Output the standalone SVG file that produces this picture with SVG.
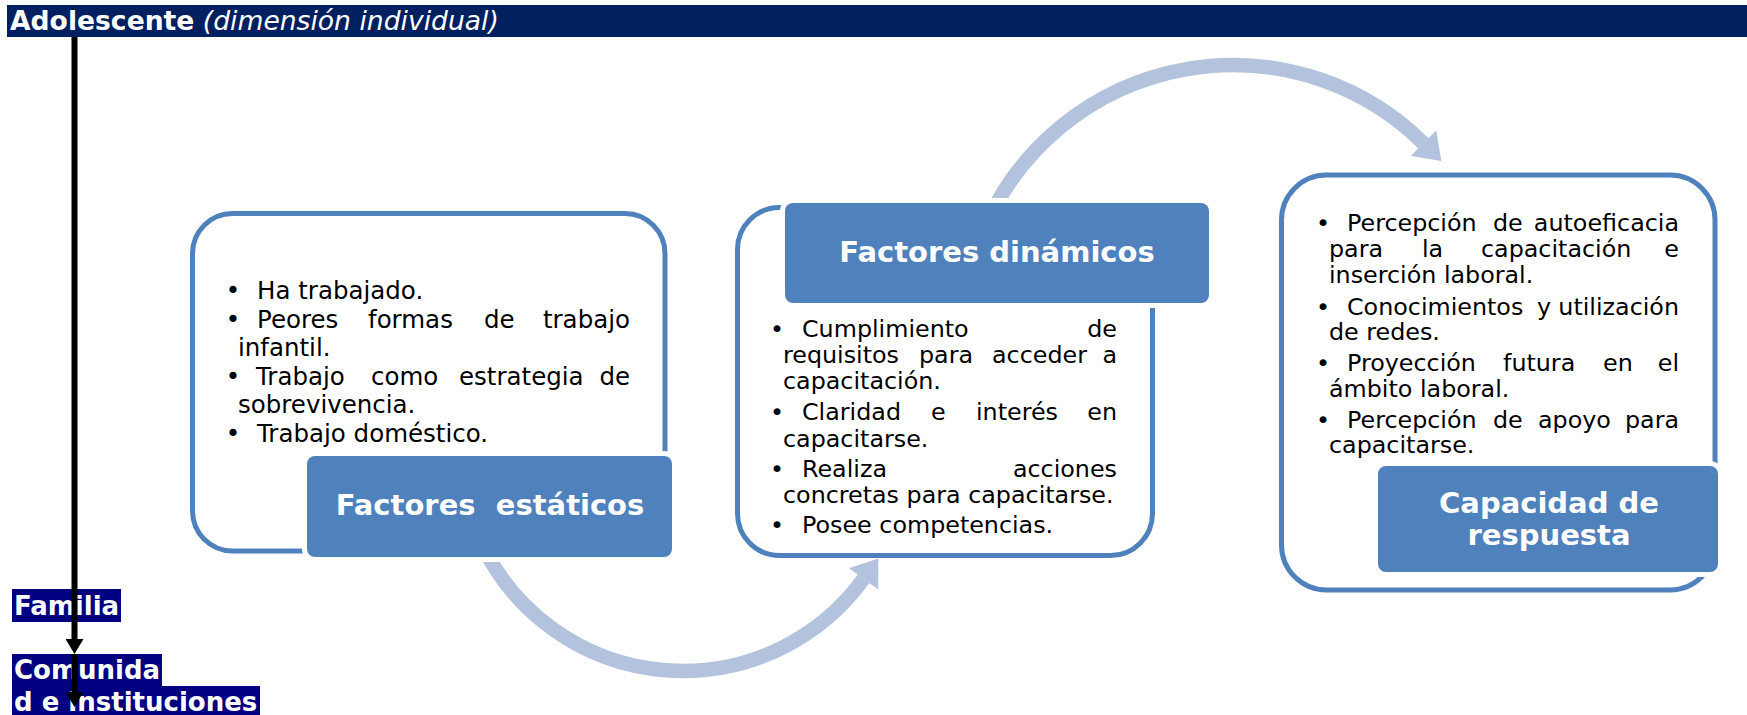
<svg xmlns="http://www.w3.org/2000/svg" width="1747" height="715" viewBox="0 0 1747 715">
<style>
.hdr{fill:#002060}
.side{fill:#000080}
.sidet{font-family:"DejaVu Sans",Verdana,sans-serif;font-weight:bold;font-size:26px;fill:#fff}
.box{fill:#fff;stroke:#4F81BD;stroke-width:5}
.lab{fill:#4F81BD;stroke:#fff;stroke-width:10;paint-order:stroke}
.labt{font-family:"DejaVu Sans",Verdana,sans-serif;font-weight:bold;font-size:29px;fill:#fff;text-anchor:middle}
.bt{font-family:"DejaVu Sans",Verdana,sans-serif;font-size:23.8px;fill:#000}
.bt1{font-family:"DejaVu Sans",Verdana,sans-serif;font-size:24.5px;fill:#000}
.e{text-anchor:end}
.b{text-anchor:middle}
.arc{fill:none;stroke:#B3C3DE;stroke-width:14.5}
.ah{fill:#B3C3DE}
.vl{stroke:#000;stroke-width:6;fill:none}
</style>
<defs>
<marker id="blk" viewBox="0 0 15 18" refX="0" refY="9" markerWidth="15" markerHeight="18" orient="auto" markerUnits="userSpaceOnUse">
<path d="M0,0 L15,9 L0,18 z" fill="#000"/>
</marker>
</defs>

<g id="header">
<rect class="hdr" x="7" y="5" width="1740" height="32"/>
<text x="10" y="30" font-family="DejaVu Sans, Verdana, sans-serif" font-size="26.6" fill="#fff"><tspan font-weight="bold">Adolescente</tspan> <tspan font-style="italic">(dimensión individual)</tspan></text>
</g>

<g id="familia">
<rect class="side" x="12" y="589" width="109" height="33"/>
<text class="sidet" x="14" y="615">Familia</text>
</g>

<g id="comunidad">
<rect class="side" x="12" y="654" width="150" height="32"/>
<rect class="side" x="12" y="686" width="248" height="29"/>
<text class="sidet" x="14" y="679">Comunida</text>
<text class="sidet" x="14" y="711">d e instituciones</text>
</g>

<g id="box-estaticos">
<rect class="box" x="192.5" y="213.5" width="472.5" height="337.5" rx="40"/>
<g class="bt1">
<text class="b" x="233" y="299">•</text><text x="257" y="299">Ha trabajado.</text>
<text class="b" x="233" y="328">•</text><text x="257" y="328">Peores</text><text x="368" y="328">formas</text><text x="484" y="328">de</text><text class="e" x="630" y="328">trabajo</text>
<text x="238" y="356">infantil.</text>
<text class="b" x="233" y="385">•</text><text x="256" y="385">Trabajo</text><text x="371" y="385">como</text><text x="459" y="385">estrategia</text><text class="e" x="630" y="385">de</text>
<text x="238" y="413">sobrevivencia.</text>
<text class="b" x="233" y="442">•</text><text x="257" y="442">Trabajo doméstico.</text>
</g>
</g>

<g id="box-dinamicos">
<rect class="box" x="737.5" y="207.5" width="415" height="348" rx="42"/>
<g class="bt">
<text class="b" x="777" y="337">•</text><text x="802" y="337">Cumplimiento</text><text class="e" x="1117" y="337">de</text>
<text x="783" y="363">requisitos</text><text x="919" y="363">para</text><text x="992" y="363">acceder</text><text class="e" x="1117" y="363">a</text>
<text x="783" y="389">capacitación.</text>
<text class="b" x="777" y="420">•</text><text x="802" y="420">Claridad</text><text x="931" y="420">e</text><text x="976" y="420">interés</text><text class="e" x="1117" y="420">en</text>
<text x="783" y="447">capacitarse.</text>
<text class="b" x="777" y="477">•</text><text x="802" y="477">Realiza</text><text class="e" x="1117" y="477">acciones</text>
<text x="783" y="503">concretas para capacitarse.</text>
<text class="b" x="777" y="533">•</text><text x="802" y="533">Posee competencias.</text>
</g>
</g>

<g id="box-capacidad">
<rect class="box" x="1281.5" y="175" width="433.5" height="415" rx="45"/>
<g class="bt">
<text class="b" x="1323" y="231">•</text><text x="1347" y="231">Percepción</text><text x="1493" y="231">de</text><text class="e" x="1679" y="231">autoeficacia</text>
<text x="1329" y="257">para</text><text x="1422" y="257">la</text><text x="1481" y="257">capacitación</text><text class="e" x="1679" y="257">e</text>
<text x="1329" y="283">inserción laboral.</text>
<text class="b" x="1323" y="315">•</text><text x="1347" y="315">Conocimientos</text><text x="1537" y="315">y</text><text class="e" x="1679" y="315">utilización</text>
<text x="1329" y="340">de redes.</text>
<text class="b" x="1323" y="371">•</text><text x="1347" y="371">Proyección</text><text x="1503" y="371">futura</text><text x="1603" y="371">en</text><text class="e" x="1679" y="371">el</text>
<text x="1329" y="397">ámbito laboral.</text>
<text class="b" x="1323" y="428">•</text><text x="1347" y="428">Percepción</text><text x="1493" y="428">de</text><text x="1538" y="428">apoyo</text><text class="e" x="1679" y="428">para</text>
<text x="1329" y="453">capacitarse.</text>
</g>
</g>

<g id="connectors">
<path class="arc" d="M484.3,549.2 A223,223 0 0 0 863.6,578.8"/>
<polygon class="ah" points="849,568.2 878.3,558.5 878.2,589.4"/>
<path class="arc" d="M987.4,221.5 A271,271 0 0 1 1423.5,143.3"/>
<polygon class="ah" points="1410.8,156.1 1441.3,160.9 1436.2,130.5"/>
<path class="vl" d="M74.5,37 L74.5,639" marker-end="url(#blk)"/>
<path class="vl" d="M74.5,654 L74.5,692" marker-end="url(#blk)"/>
</g>

<g id="label-estaticos">
<rect class="lab" x="307" y="456" width="365" height="101" rx="8"/>
<text class="labt" x="490" y="515" xml:space="preserve">Factores  estáticos</text>
</g>
<g id="label-dinamicos">
<rect class="lab" x="785" y="203" width="424" height="100" rx="8"/>
<text class="labt" x="997" y="262">Factores dinámicos</text>
</g>
<g id="label-capacidad">
<rect class="lab" x="1378" y="466" width="340" height="106" rx="8"/>
<text class="labt" x="1549" y="513">Capacidad de</text>
<text class="labt" x="1549" y="545">respuesta</text>
</g>
</svg>
